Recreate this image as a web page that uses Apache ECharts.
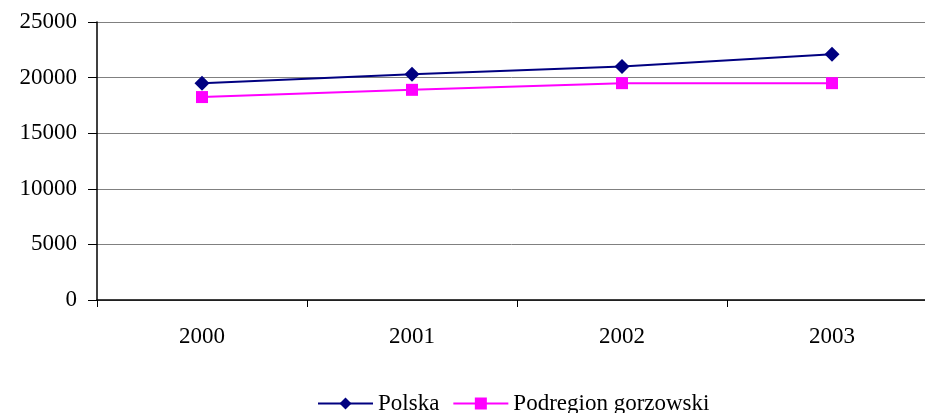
<!DOCTYPE html>
<html>
<head>
<meta charset="utf-8">
<script src="https://cdn.jsdelivr.net/npm/echarts@6/dist/echarts.min.js"></script>
<style>
  html, body { margin: 0; padding: 0; background: #fff; }
  #chart { width: 925px; height: 413px; }
</style>
</head>
<body>
<div id="chart"></div>
<script>
var years = ["2000", "2001", "2002", "2003"];
var polska = [19500, 20300, 21000, 22100];
var gorzowski = [18250, 18900, 19500, 19500];
var yTicks = { min: 0, max: 25000, interval: 5000 };

var chart = echarts.init(document.getElementById("chart"));
var font = "'Liberation Serif', 'Times New Roman', serif";

var option = {
  backgroundColor: "#fff",
  animation: false,
  textStyle: { fontFamily: font },
  grid: { left: 97, top: 22, width: 840, height: 278, outerBoundsMode: "none" },
  legend: {
    top: 387,
    left: 312,
    itemWidth: 55,
    itemHeight: 15,
    itemGap: 13,
    textStyle: { fontFamily: font, fontSize: 23, color: "#000" },
    data: ["Polska", "Podregion gorzowski"]
  },
  xAxis: {
    type: "category",
    data: years,
    boundaryGap: true,
    axisLine: { lineStyle: { color: "#000", width: 1.5 } },
    axisTick: { show: true, length: 7, lineStyle: { color: "#000" } },
    axisLabel: { margin: 25, fontFamily: font, fontSize: 23, color: "#000" },
    splitLine: { show: false }
  },
  yAxis: {
    type: "value",
    min: yTicks.min,
    max: yTicks.max,
    interval: yTicks.interval,
    axisLine: { show: true, lineStyle: { color: "#000", width: 1.5 } },
    axisTick: { show: true, length: 9, lineStyle: { color: "#000" } },
    axisLabel: {
      margin: 20,
      fontFamily: font,
      fontSize: 23,
      color: "#000",
      formatter: function (v) { return String(v); }
    },
    splitLine: { show: true, lineStyle: { color: "#808080", width: 1 } }
  },
  series: [
    {
      name: "Polska",
      type: "line",
      data: polska,
      symbol: "diamond",
      symbolSize: 15,
      itemStyle: { color: "#000080" },
      lineStyle: { color: "#000080", width: 2 }
    },
    {
      name: "Podregion gorzowski",
      type: "line",
      data: gorzowski,
      symbol: "rect",
      symbolSize: 12,
      itemStyle: { color: "#FF00FF" },
      lineStyle: { color: "#FF00FF", width: 2 }
    }
  ]
};

chart.setOption(option);
</script>
</body>
</html>
